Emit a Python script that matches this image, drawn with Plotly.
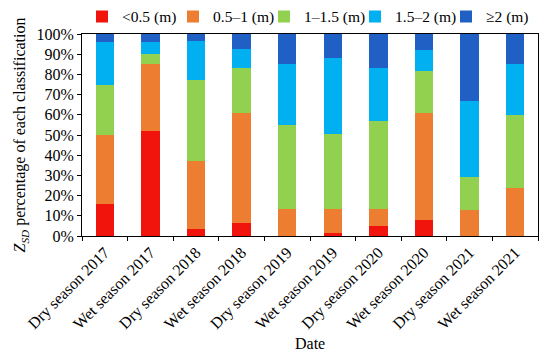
import plotly.graph_objects as go

categories = ["Dry season 2017", "Wet season 2017", "Dry season 2018", "Wet season 2018",
              "Dry season 2019", "Wet season 2019", "Dry season 2020", "Wet season 2020",
              "Dry season 2021", "Wet season 2021"]
series_names = ["<0.5 (m)", "0.5–1 (m)", "1–1.5 (m)", "1.5–2 (m)", "≥2 (m)"]
lt05 = [16, 52, 3.5, 6.5, 0, 1.5, 5, 8, 0, 0]
r05_1 = [34, 33, 33.5, 54.5, 13.5, 12, 8.5, 53, 13, 24]
r1_15 = [25, 5, 40, 22, 41.5, 37, 43.5, 20.5, 16, 36]
r15_2 = [21, 6, 19.5, 9.5, 30, 37.5, 26, 10.5, 38, 25]
ge2 = [4, 4, 3.5, 7.5, 15, 12, 17, 8, 33, 15]
colors = ["#f0140c", "#ed7d31", "#92d050", "#00b0f0", "#2060c4"]

fig = go.Figure()
for name, vals, c in zip(series_names, [lt05, r05_1, r1_15, r15_2, ge2], colors):
    fig.add_trace(go.Bar(x=categories, y=vals, name=name, marker=dict(color=c, line=dict(width=0))))

font = "Liberation Serif, Times New Roman, serif"
fig.update_layout(
    barmode="stack",
    bargap=0.6,
    width=550, height=356,
    margin=dict(l=82, r=12, t=34, b=120, autoexpand=False),
    paper_bgcolor="white", plot_bgcolor="white",
    font=dict(family=font, size=16, color="black"),
    legend=dict(orientation="h", x=0.0, xanchor="left", y=1.085, yanchor="middle",
                font=dict(size=15.5), itemwidth=30, traceorder="normal",
                entrywidth=46, entrywidthmode="pixels",
                bgcolor="rgba(0,0,0,0)"),
    xaxis=dict(tickangle=-45, tickfont=dict(size=16),
               showline=True, linecolor="black", linewidth=1, mirror=True,
               ticks="outside", ticklen=4, tickcolor="black", tickson="boundaries"),
    yaxis=dict(title=dict(text="<i>Z</i><sub><i>SD</i></sub> percentage of each classification",
                          font=dict(size=16), standoff=6),
               range=[0, 100], dtick=10, ticksuffix="%", tickfont=dict(size=16),
               showline=True, linecolor="black", linewidth=1, mirror=True,
               ticks="outside", ticklen=4, tickcolor="black", showgrid=False, zeroline=False),
    annotations=[dict(text="Date", xref="paper", yref="paper", x=0.5, y=-0.53,
                      xanchor="center", yanchor="middle", showarrow=False,
                      font=dict(size=16))],
)
fig.write_html("out.html", config={"displayModeBar": False},
               post_script="document.body.style.margin='0';")
